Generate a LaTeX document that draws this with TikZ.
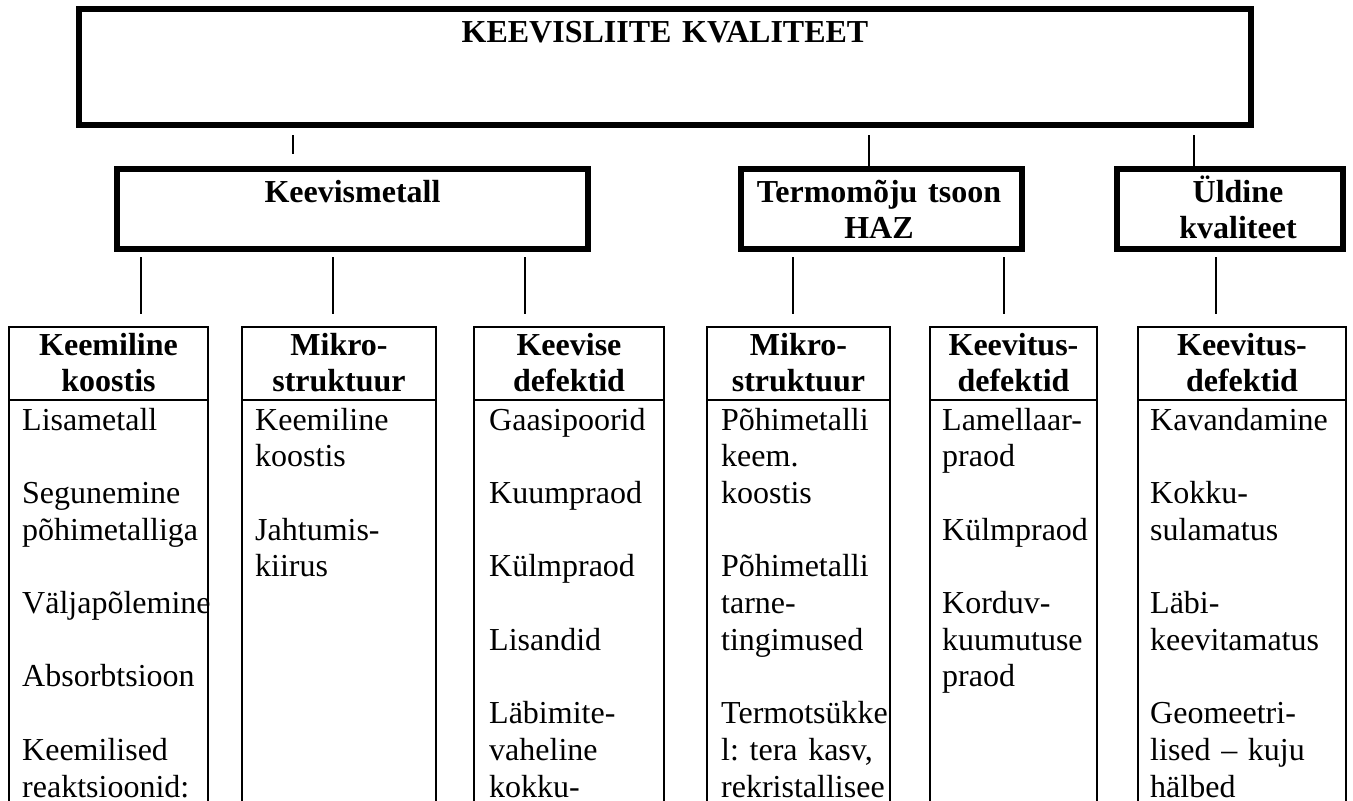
\documentclass[tikz,border=0pt]{standalone}
\usepackage{fontspec}
\setmainfont{Liberation Serif}
\frenchspacing
\begin{document}
\begin{tikzpicture}[x=1pt,y=-1pt,
  bigbox/.style={draw, rectangle, line width=6pt, inner sep=0pt, outer sep=0pt},
  smallbox/.style={draw, rectangle, line width=2pt, inner sep=0pt, outer sep=0pt, minimum height=503pt, minimum width=#1},
  conn/.style={line width=1.3pt},
  divider/.style={line width=2pt},
  hdr/.style={font=\fontsize{32}{36.7}\selectfont\bfseries, anchor=base, inner sep=0pt, align=center, text width=#1},
  body/.style={font=\fontsize{32}{36.7}\selectfont, anchor=base west, inner sep=0pt, align=left, text width=300pt},
]
\useasboundingbox (0,0) rectangle (1353,801);
\fill[white] (0,0) rectangle (1353,801);
\clip (0,0) rectangle (1353,801);

% top box
\node[bigbox, minimum width=1172pt, minimum height=116pt] (top) at (665,67) {};
\node[hdr=1100pt] (toptxt) at (665,42) {KEEVISLIITE KVALITEET};

% level 1
\node[bigbox, minimum width=471pt, minimum height=80pt] (kv) at (352.5,209) {};
\node[hdr=460pt] (kvtxt) at (352.5,202) {Keevismetall};
\node[bigbox, minimum width=281pt, minimum height=80pt] (haz) at (881.5,209) {};
\node[hdr=280pt] (haztxt) at (879,202) {Termomõju tsoon\\HAZ};
\node[bigbox, minimum width=226pt, minimum height=80pt] (uld) at (1230,209) {};
\node[hdr=226pt] (uldtxt) at (1238,202) {Üldine\\kvaliteet};

% level 2 boxes
\node[smallbox=199pt] (b1) at (108.5,578.5) {};
\node[smallbox=194pt] (b2) at (339,578.5) {};
\node[smallbox=190pt] (b3) at (569,578.5) {};
\node[smallbox=183pt] (b4) at (798.5,578.5) {};
\node[smallbox=167pt] (b5) at (1013.5,578.5) {};
\node[smallbox=208pt] (b6) at (1242,578.5) {};

\foreach \b in {b1,b2,b3,b4,b5,b6}{
  \draw[divider] (\b.west |- 0,400) -- (\b.east |- 0,400);
}

% headers
\node[hdr=199pt] (h1) at (108.5,355) {Keemiline\\koostis};
\node[hdr=194pt] (h2) at (339,355) {Mikro-\\struktuur};
\node[hdr=190pt] (h3) at (569,355) {Keevise\\defektid};
\node[hdr=183pt] (h4) at (798.5,355) {Mikro-\\struktuur};
\node[hdr=167pt] (h5) at (1013.5,355) {Keevitus-\\defektid};
\node[hdr=208pt] (h6) at (1242,355) {Keevitus-\\defektid};

% bodies
\node[body] (t1) at (22,430) {Lisametall\\[36.7pt]Segunemine\\põhimetalliga\\[36.7pt]Väljapõlemine\\[36.7pt]Absorbtsioon\\[36.7pt]Keemilised\\reaktsioonid:};
\node[body] (t2) at (255,430) {Keemiline\\koostis\\[36.7pt]Jahtumis-\\kiirus};
\node[body] (t3) at (489,430) {Gaasipoorid\\[36.7pt]Kuumpraod\\[36.7pt]Külmpraod\\[36.7pt]Lisandid\\[36.7pt]Läbimite-\\vaheline\\kokku-};
\node[body] (t4) at (721,430) {Põhimetalli\\keem.\\koostis\\[36.7pt]Põhimetalli\\tarne-\\tingimused\\[36.7pt]Termotsükke\\l: tera kasv,\\rekristallisee};
\node[body] (t5) at (942,430) {Lamellaar-\\praod\\[36.7pt]Külmpraod\\[36.7pt]Korduv-\\kuumutuse\\praod};
\node[body] (t6) at (1150,430) {Kavandamine\\[36.7pt]Kokku-\\sulamatus\\[36.7pt]Läbi-\\keevitamatus\\[36.7pt]Geomeetri-\\lised – kuju\\hälbed};

% connectors top -> level 1
\coordinate (c1a) at (293,135); \coordinate (c1b) at (293,154);
\coordinate (c2a) at (869,135); \coordinate (c2b) at (869,170);
\coordinate (c3a) at (1194,135); \coordinate (c3b) at (1194,167);
\draw[conn] (c1a) -- (c1b);
\draw[conn] (c2a) -- (c2b);
\draw[conn] (c3a) -- (c3b);

% connectors level 1 -> level 2
\foreach \x/\n in {141/d1,333/d2,525/d3,793/d4,1004/d5,1216/d6}{
  \coordinate (\n a) at (\x,257);
  \coordinate (\n b) at (\x,314);
  \draw[conn] (\n a) -- (\n b);
}
\end{tikzpicture}
\end{document}
